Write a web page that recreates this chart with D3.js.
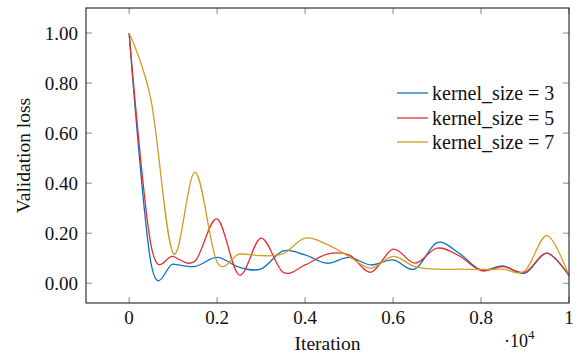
<!DOCTYPE html>
<html>
<head>
<meta charset="utf-8">
<script src="https://cdn.jsdelivr.net/npm/d3@7"></script>
<style>
  body { margin: 0; background: #fff; }
  svg text { font-family: 'Liberation Serif', serif; }
</style>
</head>
<body>
<div id="chart"></div>
<script>
// Iteration (x 10^4), sampled every 0.05
const iterations = [0, 0.05, 0.1, 0.15, 0.2, 0.25, 0.3, 0.35, 0.4, 0.45, 0.5,
    0.55, 0.6, 0.65, 0.7, 0.75, 0.8, 0.85, 0.9, 0.95, 1.0];

const lossK3 = [1.00, 0.078, 0.076, 0.067, 0.103, 0.064, 0.057, 0.129, 0.113, 0.08, 0.103,
    0.073, 0.093, 0.057, 0.162, 0.12, 0.053, 0.069, 0.04, 0.12, 0.03];
const lossK5 = [1.00, 0.15, 0.107, 0.089, 0.257, 0.033, 0.18, 0.044, 0.073, 0.116, 0.113,
    0.044, 0.136, 0.08, 0.14, 0.11, 0.05, 0.066, 0.044, 0.12, 0.03];
const lossK7 = [1.00, 0.73, 0.12, 0.444, 0.085, 0.116, 0.11, 0.118, 0.18, 0.155, 0.107,
    0.06, 0.107, 0.066, 0.056, 0.056, 0.055, 0.056, 0.05, 0.19, 0.03];

const seriesNames = ['kernel_size = 3', 'kernel_size = 5', 'kernel_size = 7'];
const seriesColors = ['#0a72c0', '#e3302f', '#d29c22'];

const xTicks = [0, 0.2, 0.4, 0.6, 0.8, 1];
const yTicks = [0, 0.2, 0.4, 0.6, 0.8, 1.0];

const width = 578, height = 358;
const margin = { top: 8, right: 9, bottom: 55, left: 86 };
const serif = 'Liberation Serif';

const svg = d3.select('#chart').append('svg')
    .attr('width', width)
    .attr('height', height);

const x = d3.scaleLinear()
    .domain([-0.098, 1])
    .range([margin.left, width - margin.right]);

const y = d3.scaleLinear()
    .domain([-0.079, 1.1])
    .range([height - margin.bottom, margin.top]);

const x0 = margin.left, x1 = width - margin.right;
const y0 = height - margin.bottom, y1 = margin.top;
const tickLen = 6;

// Ticks on all four sides, pointing inward
const tickG = svg.append('g').attr('stroke', '#8a8a8a').attr('stroke-width', 1);
xTicks.forEach(t => {
    tickG.append('line').attr('x1', x(t)).attr('x2', x(t)).attr('y1', y0).attr('y2', y0 - tickLen);
    tickG.append('line').attr('x1', x(t)).attr('x2', x(t)).attr('y1', y1).attr('y2', y1 + tickLen);
});
yTicks.forEach(t => {
    tickG.append('line').attr('x1', x0).attr('x2', x0 + tickLen).attr('y1', y(t)).attr('y2', y(t));
    tickG.append('line').attr('x1', x1).attr('x2', x1 - tickLen).attr('y1', y(t)).attr('y2', y(t));
});

// Lines
const seriesData = [lossK3, lossK5, lossK7];
const line = d3.line()
    .x((d, i) => x(iterations[i]))
    .y(d => y(d))
    .curve(d3.curveCardinal.tension(0));

const plot = svg.append('g');
seriesData.forEach((s, k) => {
    plot.append('path')
        .datum(s)
        .attr('fill', 'none')
        .attr('stroke', seriesColors[k])
        .attr('stroke-width', 1.3)
        .attr('d', line);
});

// Frame
svg.append('rect')
    .attr('x', x0).attr('y', y1)
    .attr('width', x1 - x0).attr('height', y0 - y1)
    .attr('fill', 'none')
    .attr('stroke', '#222')
    .attr('stroke-width', 1.1);

// Tick labels
svg.append('g').selectAll('text')
    .data(xTicks)
    .enter().append('text')
    .attr('x', d => x(d))
    .attr('y', y0 + 21)
    .attr('text-anchor', 'middle')
    .attr('fill', '#111')
    .attr('font-family', serif)
    .attr('font-size', 19)
    .text(d => d === 0 ? '0' : d === 1 ? '1' : d.toFixed(1));

svg.append('g').selectAll('text')
    .data(yTicks)
    .enter().append('text')
    .attr('x', x0 - 8)
    .attr('y', d => y(d))
    .attr('dy', '0.35em')
    .attr('text-anchor', 'end')
    .attr('fill', '#111')
    .attr('font-family', serif)
    .attr('font-size', 19)
    .text(d => d.toFixed(2));

// Axis labels
svg.append('text')
    .attr('x', (x0 + x1) / 2)
    .attr('y', 350)
    .attr('text-anchor', 'middle')
    .attr('fill', '#111')
    .attr('font-family', serif)
    .attr('font-size', 19.5)
    .text('Iteration');

svg.append('text')
    .attr('transform', `translate(30, ${(y0 + y1) / 2}) rotate(-90)`)
    .attr('text-anchor', 'middle')
    .attr('fill', '#111')
    .attr('font-family', serif)
    .attr('font-size', 19.5)
    .text('Validation loss');

const mult = svg.append('text')
    .attr('x', 504)
    .attr('y', 347)
    .attr('fill', '#111')
    .attr('font-family', serif)
    .attr('font-size', 18);
mult.append('tspan').text('\u00b710');
mult.append('tspan').attr('dy', -8).attr('font-size', 13).text('4');

// Legend
const legendRows = [93, 118, 142];
const legend = svg.append('g');
seriesNames.forEach((name, k) => {
    legend.append('line')
        .attr('x1', 397).attr('x2', 428)
        .attr('y1', legendRows[k]).attr('y2', legendRows[k])
        .attr('stroke', seriesColors[k])
        .attr('stroke-width', 1.3);
    legend.append('text')
        .attr('x', 432)
        .attr('y', legendRows[k])
        .attr('dy', '0.33em')
        .attr('fill', '#111')
        .attr('font-family', serif)
        .attr('font-size', 20)
        .text(name);
});
</script>
</body>
</html>
